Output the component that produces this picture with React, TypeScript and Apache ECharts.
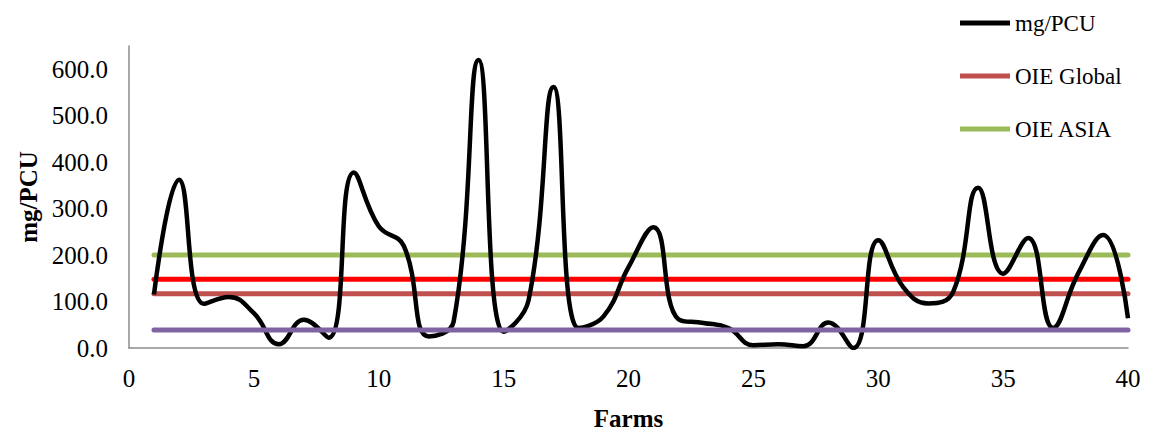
import React, { useEffect, useRef } from "react";
import * as echarts from "echarts";

const farms: number[] = Array.from({ length: 40 }, (_, i) => i + 1);
const mgPCU: number[] = [
  115, 362, 95, 110, 75, 8, 61, 22, 378, 262,
  220, 25, 57, 620, 35, 103, 562, 43, 68, 174,
  260, 62, 54, 43, 6, 8, 4, 55, 0, 232,
  131, 96, 121, 345, 160, 237, 43, 160, 243, 64,
];
const oieGlobal = 117;
const oieAsia = 200;
const redRef = 148;
const purpleRef = 39;
const xTicks = { min: 0, max: 40, interval: 5 };
const yTicks = { min: 0, max: 650, interval: 100 };

const FONT = "'Liberation Serif', 'Times New Roman', serif";

export default function App() {
  const ref = useRef<HTMLDivElement>(null);
  useEffect(() => {
    if (!ref.current) return;
    const chart = echarts.init(ref.current, undefined, { renderer: "svg" });
    const first = farms[0];
    const last = farms[farms.length - 1];
    const hline = (v: number) => [
      [first, v],
      [last, v],
    ];
    chart.setOption({
      animation: false,
      backgroundColor: "#ffffff",
      textStyle: { fontFamily: FONT },
      grid: { left: 129, right: 30, top: 46, bottom: 84, containLabel: false },
      legend: {
        data: ["mg/PCU", "OIE Global", "OIE ASIA"],
        orient: "vertical",
        left: 955,
        top: 6,
        itemWidth: 50,
        itemHeight: 5,
        itemGap: 29,
        icon: "rect",
        textStyle: { fontFamily: FONT, fontSize: 23, color: "#000", lineHeight: 24 },
      },
      xAxis: {
        type: "value",
        min: xTicks.min,
        max: xTicks.max,
        interval: xTicks.interval,
        name: "Farms",
        nameLocation: "middle",
        nameGap: 58,
        nameTextStyle: { fontFamily: FONT, fontSize: 25, fontWeight: "bold", color: "#000" },
        axisLine: { show: true, lineStyle: { color: "#8c8c8c", width: 1.5 } },
        axisTick: { show: false },
        splitLine: { show: false },
        axisLabel: { fontFamily: FONT, fontSize: 25, color: "#000", margin: 18 },
      },
      yAxis: {
        type: "value",
        min: yTicks.min,
        max: yTicks.max,
        interval: yTicks.interval,
        name: "mg/PCU",
        nameLocation: "middle",
        nameGap: 87,
        nameRotate: 90,
        nameTextStyle: { fontFamily: FONT, fontSize: 25, fontWeight: "bold", color: "#000" },
        axisLine: { show: true, lineStyle: { color: "#8c8c8c", width: 1.5 } },
        axisTick: { show: false },
        splitLine: { show: false },
        axisLabel: {
          fontFamily: FONT,
          fontSize: 25,
          color: "#000",
          margin: 21,
          showMaxLabel: false,
          formatter: (v: number) => (v % 100 === 0 ? v.toFixed(1) : ""),
        },
      },
      series: [
        {
          name: "OIE ASIA",
          type: "line",
          data: hline(oieAsia),
          symbol: "none",
          lineStyle: { color: "#9BBB59", width: 5, cap: "round" },
          itemStyle: { color: "#9BBB59" },
          z: 2,
        },
        {
          name: "Reference",
          type: "line",
          data: hline(redRef),
          symbol: "none",
          lineStyle: { color: "#FF0000", width: 5, cap: "round" },
          itemStyle: { color: "#FF0000" },
          z: 2,
        },
        {
          name: "OIE Global",
          type: "line",
          data: hline(oieGlobal),
          symbol: "none",
          lineStyle: { color: "#C0504D", width: 5, cap: "round" },
          itemStyle: { color: "#C0504D" },
          z: 2,
        },
        {
          name: "Baseline",
          type: "line",
          data: hline(purpleRef),
          symbol: "none",
          lineStyle: { color: "#8064A2", width: 5, cap: "round" },
          itemStyle: { color: "#8064A2" },
          z: 4,
        },
        {
          name: "mg/PCU",
          type: "line",
          data: farms.map((f, i) => [f, mgPCU[i]]),
          symbol: "none",
          smooth: 0.45,
          lineStyle: { color: "#000000", width: 4.5 },
          itemStyle: { color: "#000000" },
          z: 3,
        },
      ],
    });
    return () => chart.dispose();
  }, []);
  return (
    <div
      ref={ref}
      style={{ position: "fixed", left: 0, top: 0, width: 1158, height: 436, background: "#fff" }}
    />
  );
}
